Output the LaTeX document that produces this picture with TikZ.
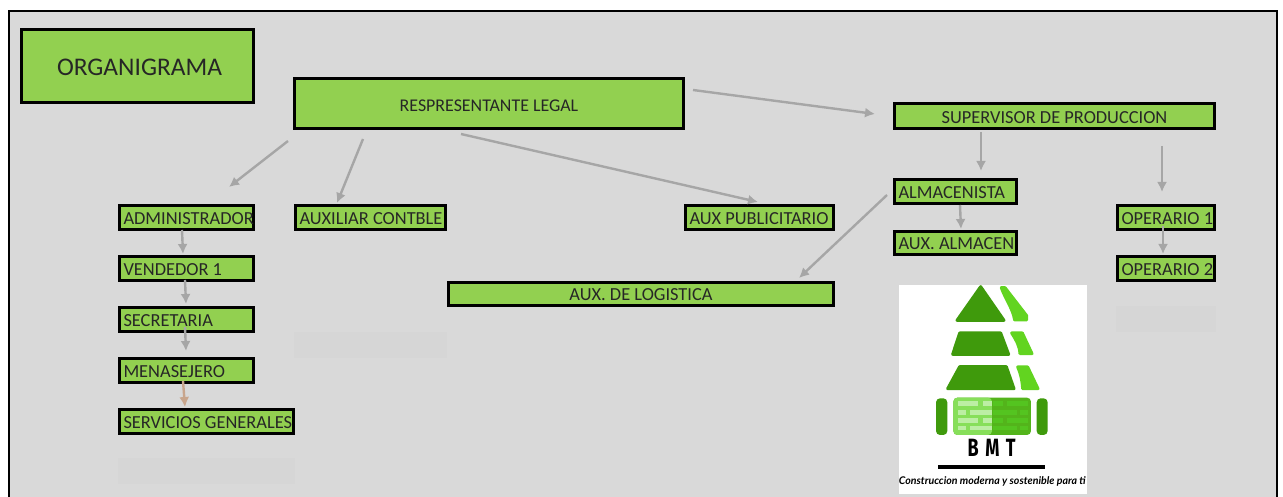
\documentclass[tikz,border=0pt]{standalone}
\usepackage{fontspec}
\setmainfont{Carlito}
\newfontfamily\lemafont{Lato}
\newfontfamily\marcafont{Fira Sans}
\usepackage{xcolor}
\usetikzlibrary{arrows.meta}
\definecolor{fondogris}{RGB}{217,217,217}
\definecolor{fondosombra}{RGB}{214,214,214}
\definecolor{cajaverde}{RGB}{146,208,80}
\definecolor{flechagris}{RGB}{166,166,166}
\definecolor{flechanaranja}{RGB}{200,165,140}
\definecolor{logooscuro}{RGB}{63,154,12}
\definecolor{logomedio}{RGB}{98,212,32}
\definecolor{logoclaro}{RGB}{144,226,104}
\definecolor{logoladrillo}{RGB}{84,196,32}
\newcommand{\rotulo}[1]{\mbox{\spaceskip=0pt\relax #1}}
\tikzset{
  caja/.style={draw=black, line width=3pt, fill=cajaverde, inner sep=0pt, font=\fontsize{18.4}{20}\selectfont, text=black!85, text height=14pt, text depth=0pt},
  cajaizq/.style={caja, inner xsep=4pt, text width=#1, minimum height=24pt},
  flecha/.style={draw=flechagris, line width=2.4pt, -{Latex[length=10pt,width=10pt]}},
  sombra/.style={fill=fondosombra},
  oscuro/.style={fill=logooscuro, draw=logooscuro, line width=3pt, line join=round},
  medio/.style={fill=logomedio, draw=logomedio, line width=3pt, line join=round},
}
\begin{document}
\begin{tikzpicture}[x=1pt,y=-1pt]
  \useasboundingbox (0,0) rectangle (1283,497);
  \fill[white] (0,0) rectangle (1283,497);
  \fill[fondogris] (9,11) rectangle (1277,497);
  \draw[line width=1.2pt] (9,497) -- (9,11) -- (1277,11) -- (1277,497);

  % manchas de fondo
  \fill[sombra] (118,458) rectangle (295,484);
  \fill[sombra] (294,332) rectangle (447,358);
  \fill[sombra] (1116,306) rectangle (1216,332);

  % cajas
  \node[caja, minimum width=232pt, minimum height=73pt, font=\fontsize{25.4}{28}\selectfont, text height=20pt] (titulo) at (137.5,66) {\hspace*{4pt}ORGANIGRAMA};
  \node[caja, minimum width=389pt, minimum height=50pt, text height=16pt, font=\fontsize{17.9}{20}\selectfont] (legal) at (489,103.5) {RESPRESENTANTE LEGAL};
  \node[caja, minimum width=320pt, minimum height=25pt, text height=15pt] (supervisor) at (1054.5,116) {SUPERVISOR DE PRODUCCION};

  \node[cajaizq=126pt] (admin) at (186.5,217.5) {\rotulo{ADMINISTRADOR}};
  \node[cajaizq=126pt] (vendedor) at (186.5,268.5) {\rotulo{VENDEDOR 1}};
  \node[cajaizq=126pt] (secretaria) at (186.5,319.5) {\rotulo{SECRETARIA}};
  \node[cajaizq=126pt] (mensajero) at (186.5,370.5) {\rotulo{MENASEJERO}};
  \node[cajaizq=166pt] (servicios) at (206.5,421.5) {\rotulo{SERVICIOS GENERALES}};

  \node[cajaizq=142pt] (contable) at (370.5,217.5) {\rotulo{AUXILIAR CONTBLE}};
  \node[cajaizq=140pt] (publicidad) at (759.5,217.5) {\rotulo{AUX PUBLICITARIO}};
  \node[caja, minimum width=385pt, minimum height=23pt] (logistica) at (641,294) {AUX. DE LOGISTICA};

  \node[cajaizq=114pt, minimum height=24pt] (almacenista) at (955.5,191.5) {\rotulo{ALMACENISTA}};
  \node[cajaizq=114pt, minimum height=23pt] (auxalmacen) at (955.5,243) {\rotulo{AUX. ALMACEN}};
  \node[cajaizq=89pt] (operario1) at (1166,217.5) {\rotulo{OPERARIO 1}};
  \node[cajaizq=89pt] (operario2) at (1166,268.5) {\rotulo{OPERARIO 2}};

  % flechas
  \draw[flecha] ([xshift=-5pt,yshift=-11pt]legal.south west) -- ([xshift=111pt,yshift=17pt]admin.north west);
  \draw[flecha] ([xshift=70pt,yshift=-9pt]legal.south west) -- ([xshift=43pt,yshift=1pt]contable.north west);
  \draw[flecha] ([xshift=168pt,yshift=-4pt]legal.south west) -- ([xshift=74pt,yshift=2pt]publicidad.north west);
  \draw[flecha] ([xshift=8pt,yshift=13.5pt]legal.east) -- ([xshift=-18pt,yshift=2pt]supervisor.west);
  \draw[flecha] ([xshift=88pt,yshift=-2pt]supervisor.south west) -- ([xshift=88pt,yshift=7pt]almacenista.north west);
  \draw[flecha] ([xshift=-54pt,yshift=-16pt]supervisor.south east) -- ([xshift=46pt,yshift=12pt]operario1.north west);
  \draw[flecha] ([xshift=67pt]almacenista.south west) -- ([xshift=68pt,yshift=1pt]auxalmacen.north west);
  \draw[flecha] ([xshift=-6pt,yshift=-3.5pt]almacenista.west) -- ([xshift=-36pt,yshift=3pt]logistica.north east);
  \draw[flecha] ([xshift=47pt,yshift=5pt]operario1.south west) -- ([xshift=47pt,yshift=1pt]operario2.north west);
  \draw[flecha] ([xshift=64pt,yshift=1pt]admin.south west) -- ([xshift=65pt,yshift=1pt]vendedor.north west);
  \draw[flecha] ([xshift=67pt,yshift=2pt]vendedor.south west) -- ([xshift=68pt,yshift=2pt]secretaria.north west);
  \draw[flecha] ([xshift=67pt,yshift=6pt]secretaria.south west) -- ([xshift=68pt,yshift=6pt]mensajero.north west);
  \draw[flecha, draw=flechanaranja] ([xshift=65pt,yshift=3pt]mensajero.south west) -- ([xshift=67pt,yshift=1pt]servicios.north west);

  % logo
  \fill[white] (899,285) rectangle (1087,494);
  \begin{scope}[x=0.3333pt,y=-0.3333pt,xshift=890pt,yshift=-275pt]
    \draw[oscuro] (272,35) -- (342,136) -- (201,136) -- cycle;
    \draw[oscuro] (209,174) -- (332,174) -- (356,238) -- (188,238) -- cycle;
    \draw[oscuro] (209,275) -- (349,275) -- (372,341) -- (173,341) -- cycle;
    \draw[medio] (334,38) -- (345,38) -- (410,122) -- (410,135) -- (374,135) .. controls (368,100) and (345,70) .. cycle;
    \draw[medio] (365,174) -- (397,174) -- (426,236) -- (390,236) .. controls (388,210) and (378,195) .. cycle;
    \draw[medio] (383,276) -- (413,276) -- (444,341) -- (398,341) .. controls (396,315) and (392,295) .. cycle;
    \fill[logooscuro, rounded corners=4pt] (138,370) rectangle (172,480);
    \fill[logooscuro, rounded corners=4pt] (440,370) rectangle (473,480);
    \fill[logomedio!85!black, rounded corners=4pt] (190,368) rectangle (423,480);
    \fill[logoclaro!80!logomedio, rounded corners=4pt] (190,368) rectangle (306,480);
    \foreach \xa/\xb/\ya in {205/265/378, 278/305/378, 203/228/405, 240/305/405, 205/265/430, 278/305/430, 203/228/452, 240/305/452} {
      \fill[logoclaro!60!white] (\xa,\ya) rectangle (\xb,\ya+14);
    }
    \foreach \xa/\xb/\ya in {310/340/378, 350/415/378, 310/380/405, 390/415/405, 310/340/430, 350/415/430, 310/380/452, 390/415/452} {
      \fill[logoladrillo] (\xa,\ya) rectangle (\xb,\ya+14);
    }
    \draw[line width=4pt] (145,575) -- (465,575);
    \node[font=\marcafont\bfseries\fontsize{25}{28}\selectfont, inner sep=0pt] (marca) at (305,520) {\scalebox{0.72}[1]{B\hspace{9pt}M\hspace{9pt}T}};
    \node[font=\lemafont\bfseries\itshape\fontsize{10.6}{13}\selectfont, inner sep=0pt] (lema) at (307,620) {Construccion moderna y sostenible para ti};
  \end{scope}
\end{tikzpicture}
\end{document}
